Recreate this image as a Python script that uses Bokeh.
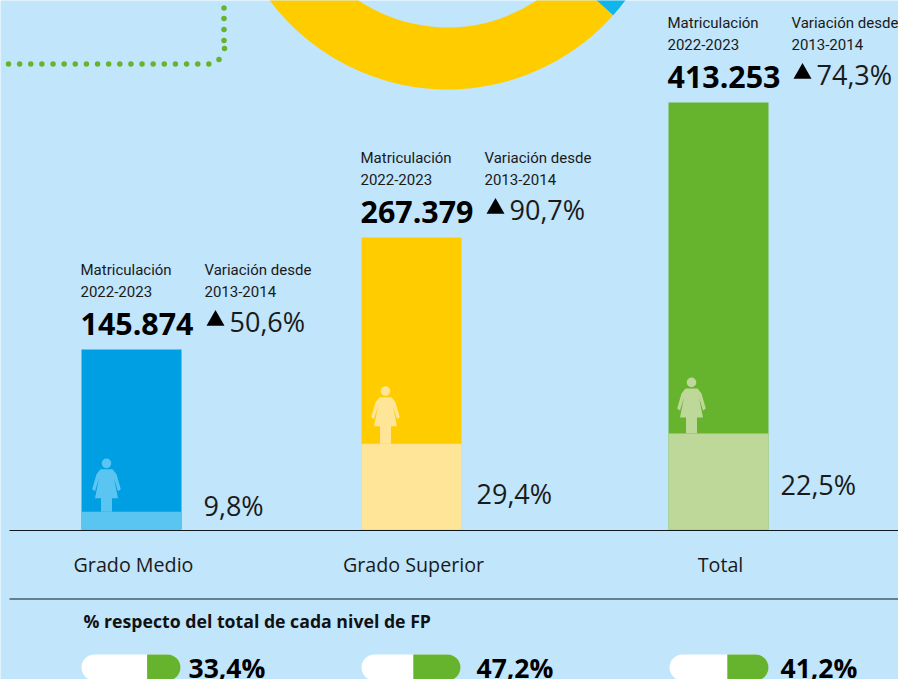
from bokeh.plotting import figure
from bokeh.embed import file_html
from bokeh.resources import INLINE
from bokeh.models import Range1d
from bokeh.core.properties import value
import numpy as np

# ---- chart values ----
categories = ["Grado Medio", "Grado Superior", "Total"]
enrolment_labels = ["145.874", "267.379", "413.253"]
variation_labels = ["50,6%", "90,7%", "74,3%"]
women_labels = ["9,8%", "29,4%", "22,5%"]
women_share = [9.8, 29.4, 22.5]
bar_heights = [180, 292, 427]      # drawn height
fp_share = [33.4, 47.2, 41.2]
fp_labels = ["33,4%", "47,2%", "41,2%"]

# ---- styles ----
BG = "#c1e5fb"
BAR = ["#009fe3", "#ffcc00", "#66b32e"]
LOW = ["#5bc5f2", "#fee598", "#bed89a"]
GREEN = "#66b32e"
INK = "#1a1a1a"
FONT = value("Open Sans")
SMALL = value("Roboto")

# ---- layout (y axis is pixels above the baseline) ----
W, H = 898, 679
BASE = 529
def Y(px):
    return BASE - np.asarray(px, dtype=float)

bar_left = [81, 361, 668]
BAR_W = 100
share_x = [203, 476, 780]
share_base = [515, 503, 494]
icon_x = [106, 385, 691]
icon_lift = [-2.5, 1.5, 0]
cat_x = [133, 413, 720]
pill_left = [81, 361, 669]
pill_txt = [188, 476, 780]

p = figure(width=W, height=H, output_backend="svg", toolbar_location=None,
           x_range=Range1d(0, W), y_range=Range1d(BASE - H, BASE),
           background_fill_color=BG, border_fill_color=BG, outline_line_color=None,
           min_border=0, margin=(0, 0, 0, 0))
p.axis.visible = False
p.grid.visible = False

def label(x, baseline_up, txt, size, font=FONT, bold=False, color=INK, align="left"):
    """baseline_up: height of the text's baseline above the chart's zero line."""
    ys = np.atleast_1d(np.asarray(baseline_up, dtype=float)) + 0.36 * size
    p.text(np.atleast_1d(x), ys, text=list(txt), text_font=font, text_font_size=f"{size}px",
           text_font_style="bold" if bold else "normal", text_color=color,
           text_align=align, text_baseline="middle")

# donut
CX, CY, R_OUT, R_IN = 447, -133, 222, 160
p.annular_wedge(x=[CX], y=Y([CY]), inner_radius=R_IN, outer_radius=R_OUT,
                start_angle=[np.pi + 0.3], end_angle=[2 * np.pi - 0.728], fill_color="#ffcc00", line_color=None)
p.annular_wedge(x=[CX], y=Y([CY]), inner_radius=R_IN, outer_radius=R_OUT,
                start_angle=[2 * np.pi - 0.728], end_angle=[2 * np.pi - 0.3], fill_color="#12b5ea", line_color=None)

# dotted connector
dot_x = [8 + 11.13 * i for i in range(19)] + [218.5, 224, 223.5, 223.5, 223.5, 223.5]
dot_y = [63.5] * 19 + [59, 48, 40, 29, 18, 7.6]
p.scatter(dot_x, Y(dot_y), size=5.5, marker="circle", fill_color=GREEN, line_color=None)

# bars
b = np.array(bar_left, dtype=float)
h = np.array(bar_heights, dtype=float)
wh = h * np.array(women_share) / 100
p.quad(left=b, right=b + BAR_W, bottom=0, top=h, fill_color=BAR, line_color=None)
p.quad(left=b, right=b + BAR_W, bottom=0, top=wh, fill_color=LOW, line_color=None)

# woman icons
for ix, w, lift, col in zip(icon_x, wh, icon_lift, LOW):
    c = w + lift
    p.quad(left=[ix - 5.5], right=[ix + 5.5], bottom=[w], top=[c + 17], fill_color=col, line_color=None)
    p.patch([ix - 14.3, ix - 10, ix - 6, ix + 6, ix + 10, ix + 14.3, ix + 11.5, ix + 7.5, ix + 11.5, ix - 11.5, ix - 7.5, ix - 11.5],
            [c + 25, c + 40, c + 45, c + 45, c + 40, c + 25, c + 23, c + 36, c + 16, c + 16, c + 36, c + 23],
            fill_color=col, line_color=None)
    p.circle([ix], [c + 51], radius=4.8, fill_color=col, line_color=None)

# axis rules
p.line([9, W], Y([530, 530]), line_color="#10181f", line_width=1)
p.line([9, W], Y([598.5, 598.5]), line_color="#10181f", line_width=1)

# labels above the bars
for i in range(3):
    top = h[i]
    x = b[i]
    label(x - 1, top + 74, ["Matriculación"], 15, font=SMALL)
    label(x - 1, top + 53, ["2022-2023"], 15, font=SMALL)
    label(x + 123, top + 74, ["Variación desde"], 15, font=SMALL)
    label(x + 123, top + 53, ["2013-2014"], 15, font=SMALL)
    label(x - 1, top + 15, [enrolment_labels[i]], 30.4, bold=True, color="#000000")
    p.scatter([x + 134], [top + 29], marker="triangle", size=18, fill_color="#000000", line_color=None)
    label(x + 148, top + 18, [variation_labels[i]], 27)

label(share_x, Y(share_base), women_labels, 27)
label(cat_x, Y([571] * 3), categories, 19.7, align="center")
label(83, Y([627]), ["% respecto del total de cada nivel de FP"], 17.7, bold=True, color="#111111")

# pills
pl = np.array(pill_left, dtype=float)
share = np.array(fp_share)
PT, PB = Y(654), Y(680)
p.quad(left=pl, right=pl + 99, top=PT, bottom=PB, fill_color="#ffffff", line_color=None, border_radius=13)
p.quad(left=pl + 99 - share, right=pl + 99, top=PT, bottom=PB, fill_color=GREEN,
       line_color=None, border_radius=(0, 13, 13, 0))
label(pill_txt, Y([677] * 3), fp_labels, 26.5, bold=True, color="#000000")

open("out.html", "w").write(file_html(p, INLINE))
